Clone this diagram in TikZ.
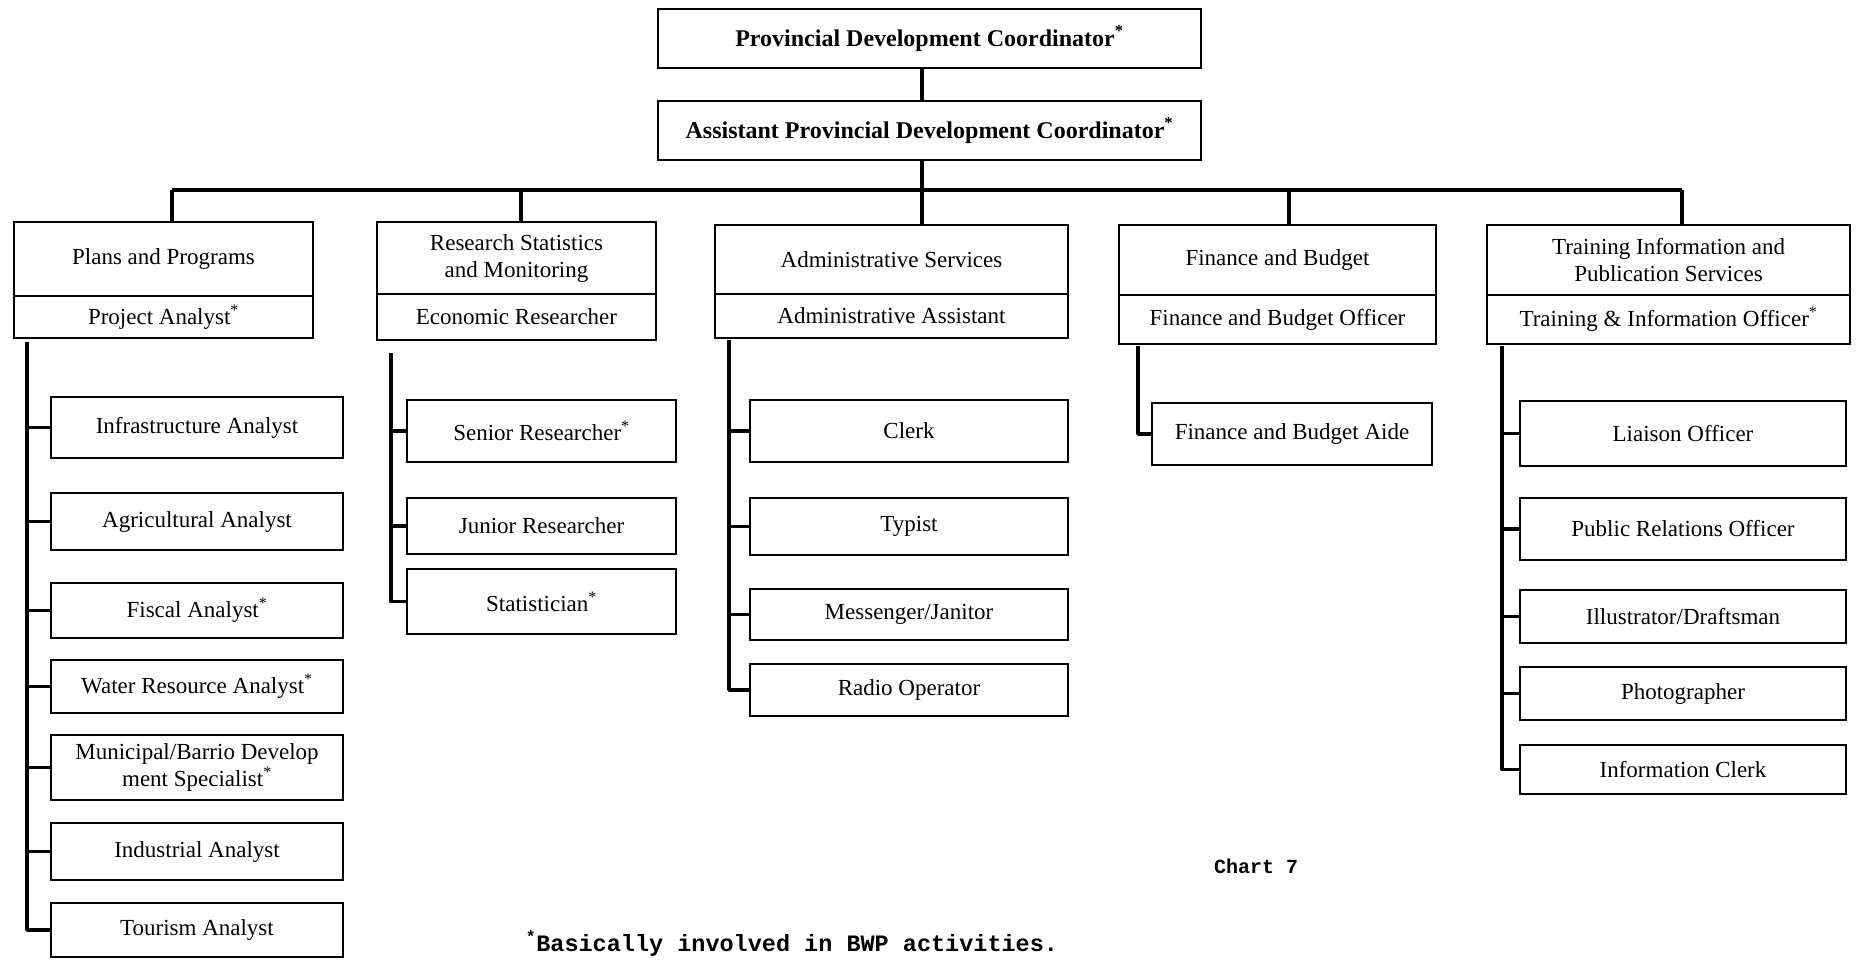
\documentclass[tikz,border=0pt]{standalone}
\usepackage{fontspec}
\setmainfont{Liberation Serif}
\newfontfamily\typew{Liberation Mono}
\begin{document}
\begin{tikzpicture}[x=1pt,y=-1pt,
  box/.style={draw, line width=1.4pt, align=center, inner sep=2pt, anchor=center,
    font=\fontsize{23}{27}\selectfont},
  topbox/.style={box, font=\bfseries\fontsize{24}{28}\selectfont, minimum width=543, minimum height=59},
  link/.style={line width=3.6pt, line join=round},
  note/.style={font=\typew\bfseries\fontsize{23.5}{27}\selectfont, inner sep=0pt}
]
\useasboundingbox (0,0) rectangle (1859,959);

% top
\node[topbox] (pdc) at (929.5,38.5) {Provincial Development Coordinator\textsuperscript{*}};
\node[topbox] (apdc) at (929.5,130.5) {Assistant Provincial Development Coordinator\textsuperscript{*}};

% departments
\node[box, minimum width=299, minimum height=74] (pp) at (163.5,259) {Plans and Programs};
\node[box, minimum width=299, minimum height=42] (ppo) at (163.5,317) {Project Analyst\textsuperscript{*}};

\node[box, minimum width=279, minimum height=72] (rs) at (516.5,258) {Research Statistics\\and Monitoring};
\node[box, minimum width=279, minimum height=46] (rso) at (516.5,317) {Economic Researcher};

\node[box, minimum width=353, minimum height=69] (as) at (891.5,259.5) {Administrative Services};
\node[box, minimum width=353, minimum height=44] (aso) at (891.5,316) {Administrative Assistant};

\node[box, minimum width=317, minimum height=70] (fb) at (1277.5,260) {Finance and Budget};
\node[box, minimum width=317, minimum height=49] (fbo) at (1277.5,319.5) {Finance and Budget Officer};

\node[box, minimum width=363, minimum height=70] (tr) at (1668.5,260) {Training Information and\\Publication Services};
\node[box, minimum width=363, minimum height=49] (tro) at (1668.5,319.5) {Training \& Information Officer\textsuperscript{*}};

% plans children
\node[box, minimum width=292, minimum height=61] (infra) at (197,427.5) {Infrastructure Analyst};
\node[box, minimum width=292, minimum height=57] (agri) at (197,521.5) {Agricultural Analyst};
\node[box, minimum width=292, minimum height=55] (fisc) at (197,610.5) {Fiscal Analyst\textsuperscript{*}};
\node[box, minimum width=292, minimum height=53] (water) at (197,686.5) {Water Resource Analyst\textsuperscript{*}};
\node[box, minimum width=292, minimum height=65] (muni) at (197,767.5) {Municipal/Barrio Develop\\ment Specialist\textsuperscript{*}};
\node[box, minimum width=292, minimum height=57] (indus) at (197,851.5) {Industrial Analyst};
\node[box, minimum width=292, minimum height=54] (tour) at (197,930) {Tourism Analyst};

% research children
\node[box, minimum width=269, minimum height=62] (senior) at (541.5,431) {Senior Researcher\textsuperscript{*}};
\node[box, minimum width=269, minimum height=56] (junior) at (541.5,526) {Junior Researcher};
\node[box, minimum width=269, minimum height=65] (stat) at (541.5,601.5) {Statistician\textsuperscript{*}};

% admin children
\node[box, minimum width=318, minimum height=62] (clerk) at (909,431) {Clerk};
\node[box, minimum width=318, minimum height=57] (typist) at (909,526.5) {Typist};
\node[box, minimum width=318, minimum height=51] (mess) at (909,614.5) {Messenger/Janitor};
\node[box, minimum width=318, minimum height=52] (radio) at (909,690) {Radio Operator};

% finance child
\node[box, minimum width=280, minimum height=62] (aide) at (1292,434) {Finance and Budget Aide};

% training children
\node[box, minimum width=326, minimum height=65] (liaison) at (1683,433.5) {Liaison Officer};
\node[box, minimum width=326, minimum height=62] (pro) at (1683,529) {Public Relations Officer};
\node[box, minimum width=326, minimum height=53] (illus) at (1683,616.5) {Illustrator/Draftsman};
\node[box, minimum width=326, minimum height=53] (photo) at (1683,693.5) {Photographer};
\node[box, minimum width=326, minimum height=49] (infoc) at (1683,769.5) {Information Clerk};

% notes
\node[note, font=\typew\bfseries\fontsize{20}{24}\selectfont] (chart) at (1256,866) {Chart 7};
\node[note] (foot) at (792,943) {\textsuperscript{*}Basically involved in BWP activities.};

% connectors
\coordinate (d1) at (172,190);
\coordinate (d2) at (521,190);
\coordinate (d3) at (922,190);
\coordinate (d4) at (1289,190);
\coordinate (d5) at (1682,190);
\draw[link] (pdc.south -| d3) -- (apdc.north -| d3);
\draw[link] (apdc.south -| d3) -- (d3);
\draw[link] (d1) -- (d5);
\draw[link] (d1) -- (d1 |- pp.north);
\draw[link] (d2) -- (d2 |- rs.north);
\draw[link] (d3) -- (d3 |- as.north);
\draw[link] (d4) -- (d4 |- fb.north);
\draw[link] (d5) -- (d5 |- tr.north);

\coordinate (s1) at (27,342);
\coordinate (s2) at (391,353);
\coordinate (s3) at (729,340);
\coordinate (s4) at (1138,346);
\coordinate (s5) at (1502,346);
\foreach \c in {infra,agri,fisc,water,muni,indus,tour} \draw[link] (s1) |- (\c.west);
\foreach \c in {senior,junior,stat} \draw[link] (s2) |- (\c.west);
\foreach \c in {clerk,typist,mess,radio} \draw[link] (s3) |- (\c.west);
\draw[link] (s4) |- (aide.west);
\foreach \c in {liaison,pro,illus,photo,infoc} \draw[link] (s5) |- (\c.west);
\end{tikzpicture}
\end{document}
